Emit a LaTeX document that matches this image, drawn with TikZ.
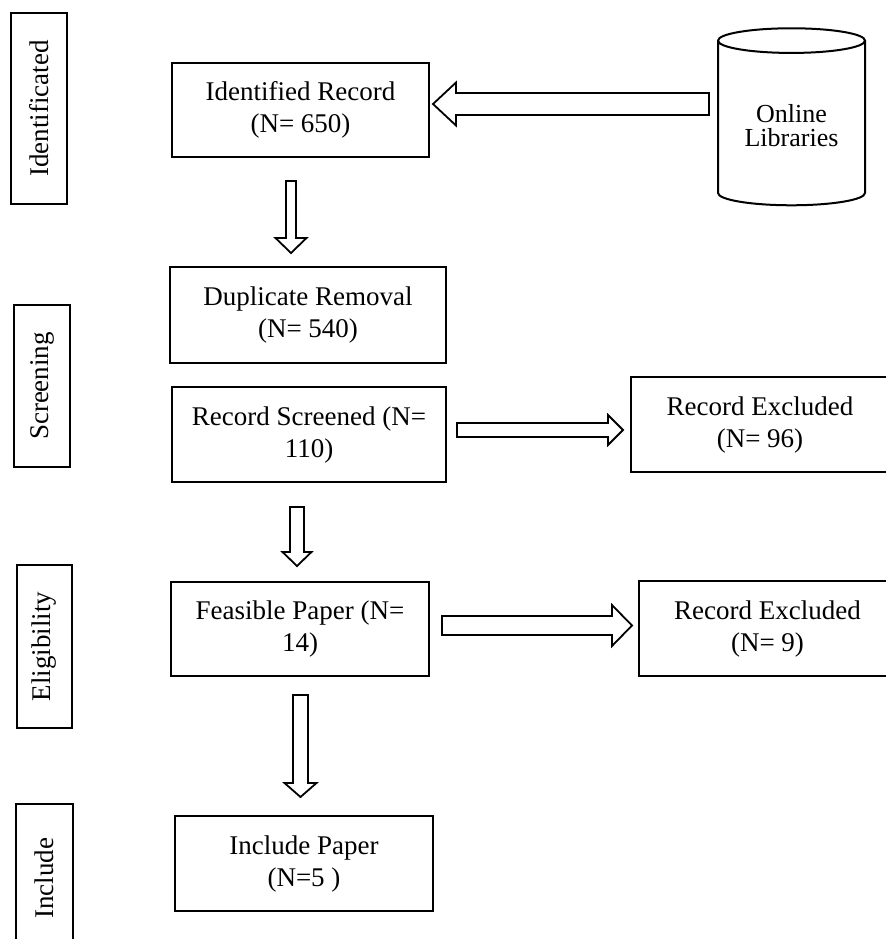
\documentclass[tikz,border=0pt]{standalone}
\usepackage{fontspec}
\setmainfont{Liberation Serif}
\usetikzlibrary{calc,shapes.geometric}

% hollow block arrow: start, tip, shaft half width, head half width, head length
\newcommand{\blockarrow}[5]{%
  \path #1 coordinate (ba-s) #2 coordinate (ba-t);
  \coordinate (ba-h) at ($(ba-t)!#5!(ba-s)$);
  \draw[arrowline] ($(ba-s)!#3!90:(ba-t)$) -- ($(ba-h)!#3!-90:(ba-s)$)
    -- ($(ba-h)!#4!-90:(ba-s)$) -- (ba-t) -- ($(ba-h)!#4!90:(ba-s)$)
    -- ($(ba-h)!#3!90:(ba-s)$) -- ($(ba-s)!#3!-90:(ba-t)$) -- cycle;}

\begin{document}
\begin{tikzpicture}[x=0.5pt, y=-0.5pt, line width=1pt]
        \tikzset{box/.style={draw, rectangle, align=center, inner sep=2pt,
            font=\fontsize{13.5}{16}\selectfont}}
        \tikzset{stage/.style={draw, rectangle, rotate=90, inner sep=2pt,
            font=\fontsize{13.5}{16}\selectfont}}
        \tikzset{dbase/.style={draw, cylinder, shape border rotate=90, aspect=0.23,
            align=center, font=\fontsize{13}{12}\selectfont}}
        \tikzset{arrowline/.style={draw, fill=white, line width=0.9pt, line join=miter}}

        \useasboundingbox (0,0) rectangle (886,939);

        % stage labels
        \node[stage, minimum width=95.5pt, minimum height=28pt] (stId) at (39,108.5) {Identificated};
        \node[stage, minimum width=81pt, minimum height=28pt] (stScr) at (42,386) {Screening};
        \node[stage, minimum width=81.5pt, minimum height=27.5pt] (stElig) at (44.5,646.5) {Eligibility};
        \node[stage, minimum width=74pt, minimum height=28.5pt] (stIncl) at (44.5,878) {Include};

        % main column
        \node[box, minimum width=128.5pt, minimum height=47pt] (idrec) at (300.5,110) {Identified Record\\(N= 650)};
        \node[box, minimum width=138pt, minimum height=48pt] (dup) at (308,315) {Duplicate Removal\\(N= 540)};
        \node[box, minimum width=137pt, minimum height=47.5pt] (scr) at (309,434.5) {Record Screened (N=\\110)};
        \node[box, minimum width=129pt, minimum height=47pt] (feas) at (300,629) {Feasible Paper (N=\\14)};
        \node[box, minimum width=129pt, minimum height=47.5pt] (incl) at (304,863.5) {Include Paper\\(N=5 )};

        % right column
        \node[dbase, minimum width=73.5pt, minimum height=88.5pt] (lib) at (791.5,126) {Online\\Libraries};
        \node[box, minimum width=129pt, minimum height=47.5pt] (exc1) at (760,424.5) {Record Excluded\\(N= 96)};
        \node[box, minimum width=128.5pt, minimum height=47.5pt] (exc2) at (767.5,628.5) {Record Excluded\\(N= 9)};

        % arrows
        \blockarrow{($(idrec.east -| lib.west)+(-8,-6)$)}{($(idrec.east)+(3,-6)$)}{5.5pt}{10.75pt}{11.5pt}
        \blockarrow{($(idrec.south)+(-9.5,23)$)}{($(dup.north)+(-17,-13)$)}{2.5pt}{7.75pt}{7.5pt}
        \blockarrow{($(scr.south)+(-12,24)$)}{($(feas.north)+(-3,-15)$)}{3.5pt}{7.25pt}{7pt}
        \blockarrow{($(feas.south)+(0.5,18)$)}{($(incl.north)+(-3.5,-18)$)}{3.75pt}{8pt}{7pt}
        \blockarrow{($(scr.east)+(10,-4.5)$)}{($(exc1.west)+(-7,5.5)$)}{3.5pt}{7.5pt}{7.5pt}
        \blockarrow{($(feas.east)+(12,-3.5)$)}{($(exc2.west)+(-6,-3)$)}{4.75pt}{10.25pt}{10pt}
\end{tikzpicture}
\end{document}
